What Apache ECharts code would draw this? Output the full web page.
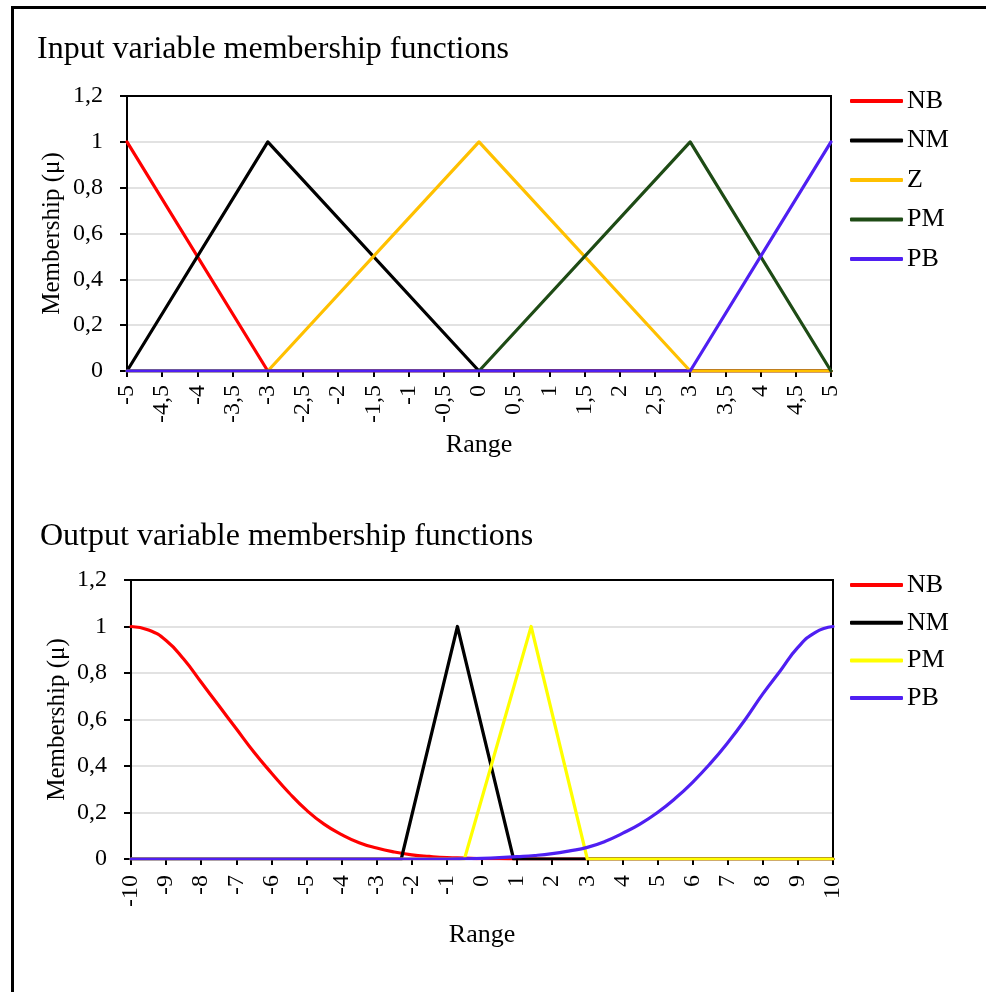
<!DOCTYPE html>
<html>
<head>
<meta charset="utf-8">
<script src="https://cdn.jsdelivr.net/npm/echarts@6/dist/echarts.min.js"></script>
<style>
html,body{margin:0;padding:0;background:#fff;}
#frame{position:absolute;left:11px;top:6px;width:990px;height:1000px;border-left:3px solid #000;border-top:3px solid #000;box-sizing:border-box;}
#chart{position:absolute;left:0;top:0;width:986px;height:992px;}
</style>
</head>
<body>
<div id="frame"></div>
<div id="chart"></div>
<script>
// ---- Input variable membership functions ----
const inTitle = 'Input variable membership functions';
const inNames = ['NB', 'NM', 'Z', 'PM', 'PB'];
const inNB = [[-5, 1], [-3, 0], [5, 0]];
const inNM = [[-5, 0], [-3, 1], [0, 0], [5, 0]];
const inZ  = [[-5, 0], [-3, 0], [0, 1], [3, 0], [5, 0]];
const inPM = [[-5, 0], [0, 0], [3, 1], [5, 0]];
const inPB = [[-5, 0], [3, 0], [5, 1]];

// ---- Output variable membership functions ----
const outTitle = 'Output variable membership functions';
const outNames = ['NB', 'NM', 'PM', 'PB'];
const outX = [-10, -9.5, -9, -8.5, -8, -7.5, -7, -6.5, -6, -5.5, -5, -4.5, -4, -3.5, -3, -2.5, -2, -1.5, -1, -0.5, 0,
              0.5, 1, 1.5, 2, 2.5, 3, 3.5, 4, 4.5, 5, 5.5, 6, 6.5, 7, 7.5, 8, 8.5, 9, 9.5, 10];
const outNBy = [1, 0.985, 0.94, 0.86, 0.76, 0.66, 0.56, 0.46, 0.37, 0.285, 0.21, 0.15, 0.105, 0.07, 0.047, 0.03, 0.018, 0.011, 0.006, 0.004, 0.002,
                0.001, 0.0005, 0, 0, 0, 0, 0, 0, 0, 0, 0, 0, 0, 0, 0, 0, 0, 0, 0, 0];
const outPBy = [0, 0, 0, 0, 0, 0, 0, 0, 0, 0, 0, 0, 0, 0, 0, 0, 0, 0, 0, 0.001, 0.003,
                0.006, 0.01, 0.015, 0.023, 0.035, 0.05, 0.075, 0.11, 0.15, 0.2, 0.26, 0.33, 0.41, 0.5, 0.6, 0.71, 0.81, 0.91, 0.975, 1];
const outNM = [[-10, 0], [-2.3, 0], [-0.7, 1], [0.9, 0], [10, 0]];
const outPM = [[-10, 0], [-0.5, 0], [1.4, 1], [3, 0], [10, 0]];

const inColors = ['#FF0000', '#000000', '#FFC000', '#1E4B15', '#4F1FF2'];
const outColors = ['#FF0000', '#000000', '#FFFF00', '#4F1FF2'];

const FONT = 'Liberation Serif';
const comma = v => String(Math.round(v * 100) / 100).replace('.', ',');
const stripPrefix = n => n.replace(/^(in|out)-/, '');

function zipXY(xs, ys) { return xs.map((x, i) => [x, ys[i]]); }

const chart = echarts.init(document.getElementById('chart'), null, {renderer: 'canvas'});

function xAxisCfg(gi, min, max, interval, labelMargin, nameGap) {
  return {
    type: 'value', gridIndex: gi, min: min, max: max, interval: interval, z: 0,
    name: 'Range', nameLocation: 'middle', nameGap: nameGap, nameMoveOverlap: false,
    nameTextStyle: {fontFamily: FONT, fontSize: 26, color: '#000'},
    axisLine: {show: true, onZero: false, lineStyle: {color: '#000', width: 2}},
    axisTick: {show: true, length: 6, lineStyle: {color: '#000', width: 2}},
    axisLabel: {rotate: 90, margin: labelMargin, fontFamily: FONT, fontSize: 24, color: '#000', formatter: comma},
    splitLine: {show: false}
  };
}
function yAxisCfg(gi, nameGap) {
  return {
    type: 'value', gridIndex: gi, min: 0, max: 1.2, interval: 0.2, z: 0,
    name: 'Membership (\u03bc)', nameLocation: 'middle', nameGap: nameGap, nameRotate: 90, nameMoveOverlap: false,
    nameTextStyle: {fontFamily: FONT, fontSize: 25, color: '#000'},
    axisLine: {show: true, onZero: false, lineStyle: {color: '#000', width: 2}},
    axisTick: {show: true, length: 7, lineStyle: {color: '#000', width: 2}},
    axisLabel: {margin: 24, fontFamily: FONT, fontSize: 24, color: '#000', formatter: comma},
    splitLine: {show: true, lineStyle: {color: '#D9D9D9', width: 1.5}}
  };
}
function lineSeries(name, data, color, xi, yi, smooth) {
  return {
    type: 'line', name: name, data: data, xAxisIndex: xi, yAxisIndex: yi, z: 2,
    showSymbol: false, symbol: 'none', smooth: smooth ? true : false,
    lineStyle: {color: color, width: 3.2, cap: 'round', join: 'round'},
    itemStyle: {color: color},
    emphasis: {disabled: true}, animation: false, clip: true
  };
}
function legendCfg(names, prefix, top, gap) {
  return {
    orient: 'vertical', left: 845, top: top, itemGap: gap,
    itemWidth: 53, itemHeight: 4, icon: 'roundRect',
    data: names.map(n => ({name: prefix + n})),
    formatter: stripPrefix,
    textStyle: {fontFamily: FONT, fontSize: 26, color: '#000', lineHeight: 26, padding: [0, 0, 0, -1]},
    selectedMode: false
  };
}

const inSeriesData = [inNB, inNM, inZ, inPM, inPB];
const outSeriesData = [zipXY(outX, outNBy), outNM, outPM, zipXY(outX, outPBy)];

const option = {
  animation: false,
  backgroundColor: 'transparent',
  title: [
    {text: inTitle, left: 32, top: 29, textStyle: {fontFamily: FONT, fontSize: 32, fontWeight: 'normal', color: '#000'}},
    {text: outTitle, left: 35, top: 516, textStyle: {fontFamily: FONT, fontSize: 32, fontWeight: 'normal', color: '#000'}}
  ],
  grid: [
    {left: 127, top: 96, width: 704, height: 275, show: true, z: 1, borderColor: '#000', borderWidth: 2, backgroundColor: 'transparent', outerBoundsMode: 'none'},
    {left: 131, top: 580, width: 702, height: 279, show: true, z: 1, borderColor: '#000', borderWidth: 2, backgroundColor: 'transparent', outerBoundsMode: 'none'}
  ],
  legend: [legendCfg(inNames, 'in-', 83, 13.5), legendCfg(outNames, 'out-', 567, 11.7)],
  xAxis: [xAxisCfg(0, -5, 5, 0.5, 14, 61), xAxisCfg(1, -10, 10, 1, 16, 63)],
  yAxis: [yAxisCfg(0, 62.5), yAxisCfg(1, 61.5)],
  series: [
    ...inNames.map((n, i) => lineSeries('in-' + n, inSeriesData[i], inColors[i], 0, 0, false)),
    ...outNames.map((n, i) => lineSeries('out-' + n, outSeriesData[i], outColors[i], 1, 1, i === 0 || i === 3))
  ]
};
chart.setOption(option);
</script>
</body>
</html>
